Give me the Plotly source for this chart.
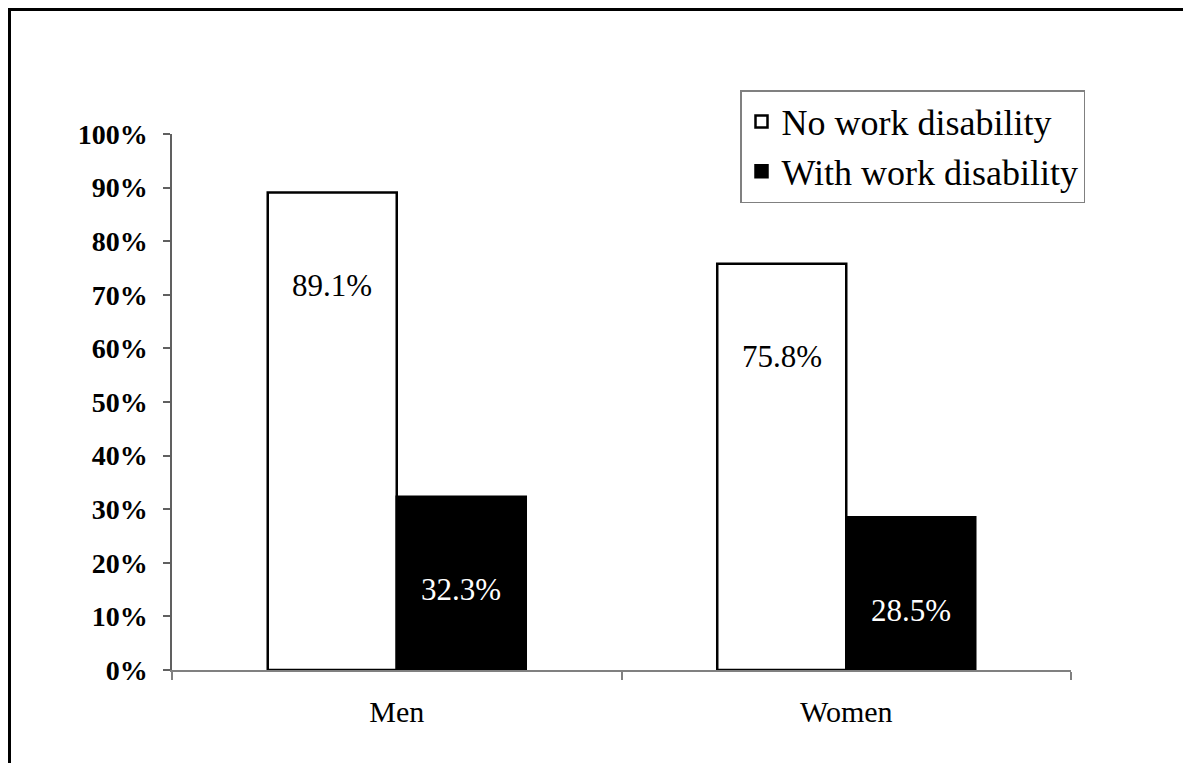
import plotly.graph_objects as go

categories = ["Men", "Women"]
no_disability = [89.1, 75.8]
with_disability = [32.3, 28.5]
series_names = ["No work disability", "With work disability"]
y_ticks = [0, 10, 20, 30, 40, 50, 60, 70, 80, 90, 100]
y_tick_labels = [f"{v}%" for v in y_ticks]

SERIF = "Liberation Serif, Times New Roman, serif"
W, H = 1183, 763
ML, MR, MT, MB = 172, 112, 134, 93
pw = W - ML - MR
ph = H - MT - MB

fig = go.Figure()
fig.add_trace(go.Bar(
    x=categories, y=no_disability, name=series_names[0],
    marker=dict(color="white", line=dict(color="black", width=2.5)),
))
fig.add_trace(go.Bar(
    x=categories, y=with_disability, name=series_names[1],
    marker=dict(color="black", line=dict(color="black", width=2.5)),
))

# data labels
bar_gap = 0.426
cat_px = pw / len(categories)
bar_px = cat_px * (1 - bar_gap) / 2
for vals, shift, col in [(no_disability, -bar_px / 2, "black"), (with_disability, bar_px / 2, "white")]:
    for c, v in zip(categories, vals):
        fig.add_annotation(
            x=c, y=v, xref="x", yref="y", text=f"{v:.1f}%", showarrow=False,
            xshift=shift, yshift=-93, yanchor="middle", xanchor="center",
            font=dict(family=SERIF, size=31, color=col),
        )

# outer frame
fig.add_shape(
    type="rect", xref="paper", yref="paper",
    x0=(9.5 - ML) / pw, x1=(W + 20 - ML) / pw,
    y0=(-(H + 20) + (H - MB)) / ph, y1=(H - MB - 9.5) / ph,
    line=dict(color="black", width=3), fillcolor="rgba(0,0,0,0)", layer="below",
)

fig.update_layout(
    width=W, height=H,
    margin=dict(l=ML, r=MR, t=MT, b=MB, pad=0),
    paper_bgcolor="white", plot_bgcolor="white",
    barmode="group", bargap=bar_gap, bargroupgap=0,
    font=dict(family=SERIF, color="black"),
    showlegend=True,
    legend=dict(
        x=(740 - ML) / pw, y=(H - MB - 90) / ph, xanchor="left", yanchor="top",
        bordercolor="#808080", borderwidth=1.5, bgcolor="white",
        font=dict(family=SERIF, size=36, color="black"),
        traceorder="normal", itemwidth=30,
        tracegroupgap=0,
    ),
    xaxis=dict(
        showline=True, linecolor="#808080", linewidth=2,
        ticks="outside", tickson="boundaries", ticklen=8, tickcolor="#808080", tickwidth=2,
        tickfont=dict(family=SERIF, size=30, color="black"),
        ticklabelstandoff=14,
        showgrid=False, zeroline=False,
    ),
    yaxis=dict(
        range=[0, 100], tickvals=y_ticks, ticktext=y_tick_labels,
        showline=True, linecolor="#606060", linewidth=1.5,
        ticks="outside", ticklen=7, tickcolor="#606060", tickwidth=1.5,
        tickfont=dict(family=SERIF, size=28, color="black", weight="bold"),
        ticklabelstandoff=10,
        showgrid=False, zeroline=False,
    ),
)

fig.write_html("out.html")
